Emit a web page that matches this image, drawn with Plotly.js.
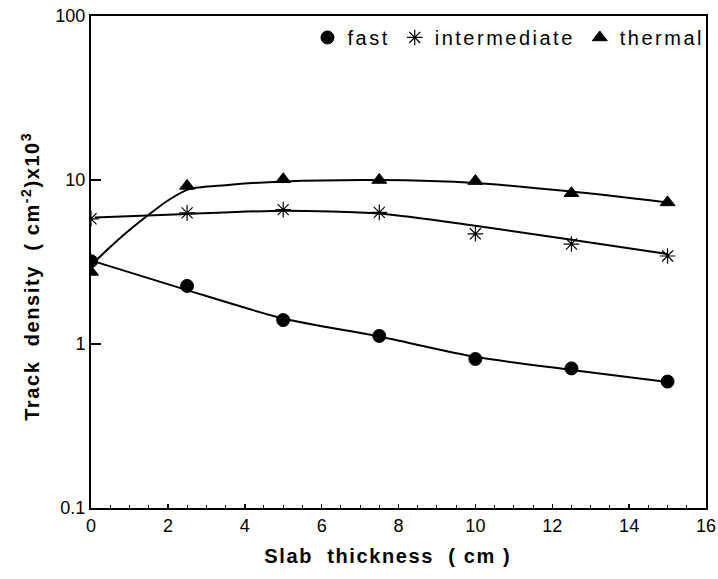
<!DOCTYPE html>
<html>
<head>
<meta charset="utf-8">
<script src="https://cdn.plot.ly/plotly-3.0.1.min.js"></script>
<style>
  html, body { margin: 0; padding: 0; background: #fff; }
  #chart { width: 718px; height: 579px; }
  .legendtext { letter-spacing: 2.5px; }
  .xtitle, .ytitle { letter-spacing: 1.6px; }
</style>
</head>
<body>
<div id="chart"></div>
<script>
// Measured points
const thickness = [0, 2.5, 5, 7.5, 10, 12.5, 15];
const fastValues = [3.2, 2.26, 1.40, 1.12, 0.81, 0.71, 0.59];
const intermediateValues = [5.8, 6.3, 6.6, 6.35, 4.7, 4.07, 3.44];
const thermalValues = [2.75, 9.2, 10.1, 10.0, 9.85, 8.3, 7.3];

// Fitted curves drawn through the points
const fastFitX = [0.1, 2.5, 5, 7.5, 10, 12.5, 15];
const fastFitY = [3.18, 2.13, 1.43, 1.11, 0.835, 0.695, 0.586];
const intermediateFitX = [0.1, 2.5, 5, 7.5, 10, 12.5, 15];
const intermediateFitY = [5.9, 6.2, 6.5, 6.25, 5.26, 4.32, 3.54];
const thermalFitX = [0.1, 0.5, 1, 1.55, 2, 2.55, 3.5, 5, 7.5, 10, 12.5, 15];
const thermalFitY = [3.18, 3.9, 4.95, 6.27, 7.5, 8.8, 9.3, 9.8, 10.0, 9.6, 8.5, 7.3];

const xTicks = [0, 2, 4, 6, 8, 10, 12, 14, 16];
const yTickVals = [0.1, 1, 10, 100];
const yTickText = ['0.1', '1', '10', '100'];

const seriesNames = ['fast', 'intermediate', 'thermal'];

const lineStyle = { color: '#000', width: 2, shape: 'spline', smoothing: 0.7 };

const traces = [
  { x: fastFitX, y: fastFitY, mode: 'lines', line: lineStyle, showlegend: false, hoverinfo: 'skip' },
  { x: intermediateFitX, y: intermediateFitY, mode: 'lines', line: lineStyle, showlegend: false, hoverinfo: 'skip' },
  { x: thermalFitX, y: thermalFitY, mode: 'lines', line: lineStyle, showlegend: false, hoverinfo: 'skip' },
  { x: thickness, y: fastValues, name: seriesNames[0], mode: 'markers',
    marker: { symbol: 'circle', size: 13, color: '#000', line: { color: '#000', width: 1 } } },
  { x: thickness, y: intermediateValues, name: seriesNames[1], mode: 'markers',
    marker: { symbol: 'asterisk-open', size: 13, color: '#000', line: { color: '#000', width: 1.2 } } },
  { x: thickness, y: thermalValues, name: seriesNames[2], mode: 'markers',
    marker: { symbol: 'triangle-up', size: 13, color: '#000', line: { color: '#000', width: 1 } } }
];

const font = 'Liberation Sans, Arial, Helvetica, sans-serif';

const layout = {
  width: 718, height: 579,
  margin: { l: 91, r: 12, t: 16, b: 71, pad: 0, autoexpand: false },
  paper_bgcolor: '#fff', plot_bgcolor: '#fff',
  font: { family: font, size: 18, color: '#000' },
  showlegend: true,
  legend: {
    orientation: 'h', x: 0.352, xanchor: 'left', y: 0.996, yanchor: 'top',
    bgcolor: 'rgba(0,0,0,0)', font: { family: font, size: 20, color: '#000' },
    itemwidth: 30, tracegroupgap: 0
  },
  xaxis: {
    range: [0, 16], tickvals: xTicks, ticks: 'inside', ticklen: 4, tickwidth: 1.5,
    tickcolor: '#000', showline: true, linecolor: '#000', linewidth: 2, mirror: true,
    showgrid: false, zeroline: false, automargin: false,
    tickfont: { family: font, size: 18, color: '#000' },
    minor: { dtick: 0.5, ticks: 'inside', ticklen: 3, tickwidth: 1, tickcolor: '#000', showgrid: false },
    title: { text: '<b>Slab\u00A0\u00A0thickness\u00A0\u00A0(\u00A0cm\u00A0)\u00A0\u00A0\u00A0</b>', font: { family: font, size: 20, color: '#000' }, standoff: 14 }
  },
  yaxis: {
    type: 'log', range: [-1, 2], tickvals: yTickVals, ticktext: yTickText,
    ticks: 'inside', ticklen: 10, tickwidth: 1.5, tickcolor: '#000',
    showline: true, linecolor: '#000', linewidth: 2, mirror: true,
    showgrid: false, zeroline: false, automargin: false,
    tickfont: { family: font, size: 18, color: '#000' },
    title: { text: '<b>Track\u00A0\u00A0density\u00A0\u00A0(\u00A0cm<sup>-2</sup>)x10<sup>3</sup>\u00A0\u00A0\u00A0\u00A0</b>', font: { family: font, size: 20, color: '#000' }, standoff: 10 }
  }
};

Plotly.newPlot('chart', traces, layout, { displayModeBar: false, staticPlot: true });
</script>
</body>
</html>
